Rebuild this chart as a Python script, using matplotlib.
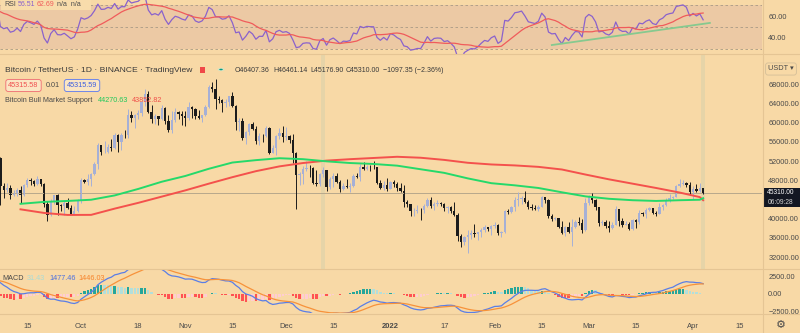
import numpy as np
import pandas as pd
import matplotlib
matplotlib.use('Agg')
import matplotlib.pyplot as plt
from matplotlib.patches import Rectangle, Circle
from matplotlib.lines import Line2D

bg = '#f8d9a6'
band = '#ecc9a4'
txt = '#4a4a4a'
sep = '#e5c594'
up_c = '#a6b0d6'
dn_c = '#1c1c1c'
FONT = ['Liberation Sans', 'DejaVu Sans']
plt.rcParams['font.family'] = FONT

# daily closes 2021-07-20 .. 2022-04-04 (Jul 20 - Sep 6 only feed RSI / MACD)
closes = [
    29790, 32140, 32300, 33600, 34300, 35400, 37270, 39460, 40020, 40010, 42240, 41460,
    39850, 39150, 38190, 39720, 40870, 42830, 44610, 43830, 46290, 45570, 45800, 44400,
    47800, 47100, 47000, 45900, 44700, 44600, 46800, 49300, 48900, 49300, 49500, 47700,
    48950, 46800, 49070, 48900, 48810, 46990, 47130,
    48800, 49270, 49940, 49920, 51760, 52660,
    # Sep 7 ->
    46860, 46060, 46400, 44850, 45150, 46030, 44960, 47100, 48120, 47750, 47300, 48300,
    47240, 42980, 40700, 43560, 44880, 42810, 42700, 43200, 42170, 41030, 41520, 43790,
    # Oct
    48140, 47660, 48200, 49230, 51490, 55340, 53800, 53950, 54950, 54660, 57480, 56000,
    57370, 57350, 61670, 60880, 61530, 62010, 64280, 66000, 62210, 60690, 61300, 60850,
    63080, 60330, 58460, 60590, 62250, 61890, 61320,
    # Nov
    61000, 63230, 62940, 61450, 61010, 61530, 63300, 67540, 66940, 64880, 64810, 64150,
    64400, 65460, 63560, 60100, 60360, 56890, 58050, 59700, 58620, 56250, 57170, 57140,
    58960, 53730, 54720, 57270, 57800, 56950,
    # Dec
    57180, 56480, 53600, 49150, 49400, 50440, 50590, 50470, 47540, 47140, 49390, 50050,
    46700, 48340, 48860, 47630, 46130, 46830, 46680, 46910, 48910, 48590, 50800, 50400,
    50780, 50710, 50680, 47540, 46460, 47120, 46200,
    # Jan
    47720, 47300, 46440, 45830, 43430, 43080, 41550, 41680, 41860, 41820, 42740, 43920,
    42590, 43100, 43180, 43110, 42250, 42380, 41690, 40680, 36450, 35070, 36280, 36660,
    36960, 36820, 37160, 37710, 38170, 37920, 38480,
    # Feb
    38740, 36950, 37330, 41570, 41410, 42380, 43840, 44040, 44370, 43510, 42390, 42210,
    42050, 42540, 44540, 43870, 40520, 40000, 40090, 38370, 37000, 38230, 37250, 38330,
    39210, 39100, 37700, 43190,
    # Mar
    44420, 43920, 42450, 39150, 39400, 38420, 37990, 38730, 41940, 39420, 38730, 38810,
    37780, 39670, 39280, 41110, 40920, 41760, 42200, 41260, 41000, 42360, 42890, 43960,
    44310, 44510, 46820, 47130, 47430, 47060, 45510,
    # Apr
    46280, 45810, 46407.36, 45310.00,
]

# highs / lows of the visible candles, 2021-09-07 .. 2022-04-04
highs = [
    52920, 47350, 47360, 47020, 45990, 46460, 46880, 47250, 48450, 48500, 48150, 48820,
    48370, 47340, 43640, 44000, 44970, 45150, 42980, 43940, 44350, 42790, 42620, 44130,
    48490, 48360, 49300, 49530, 51890, 55750, 55400, 56100, 55490, 56560, 57840, 57680,
    57750, 58530, 62930, 62340, 61720, 62700, 64490, 67000, 66640, 63730, 61750, 61490,
    63710, 63290, 61500, 62500, 62980, 62350, 62420,
    62440, 64270, 63520, 63090, 62600, 61560, 63600, 67790, 68530, 69000, 65580, 65000,
    65000, 65550, 66400, 63620, 61000, 60980, 58370, 59850, 60050, 59270, 57880, 57700,
    59400, 59170, 55280, 57440, 58870, 59250,
    59040, 57370, 57600, 53900, 49700, 50880, 51950, 51200, 50800, 50100, 49480, 50780,
    50200, 48700, 49500, 49440, 47990, 47360, 48300, 47540, 49330, 49580, 51380, 51870,
    51170, 51280, 52090, 50710, 48140, 47900, 48550,
    47950, 47990, 47570, 47500, 47070, 43820, 43150, 42300, 42790, 42250, 43100, 44350,
    44460, 43450, 43800, 43480, 43190, 42690, 42580, 43500, 41100, 36840, 36500, 37550,
    37550, 38920, 37230, 38000, 38720, 38360, 38740,
    39260, 38860, 37390, 41770, 41950, 42650, 44500, 45490, 44800, 45820, 43930, 43000,
    42760, 42870, 44770, 44580, 44160, 40960, 40450, 40150, 39500, 38430, 39250, 39840,
    39700, 40300, 39860, 44230,
    44950, 45400, 44100, 42500, 39700, 39700, 39550, 39380, 42590, 42050, 40250, 39490,
    39300, 39940, 39880, 41720, 41480, 42330, 42400, 42300, 41540, 43350, 43020, 44220,
    45090, 44810, 46920, 48190, 48100, 47700, 47600,
    46720, 47210, 47440, 46461.14,
]
lows = [
    42840, 44410, 45510, 44130, 44730, 44740, 43370, 44690, 46700, 47020, 46750, 47050,
    46830, 42500, 39600, 40550, 43070, 40680, 41660, 40800, 42100, 40930, 40750, 41410,
    43280, 47430, 47120, 46890, 49060, 50380, 53360, 53660, 53700, 54090, 54420, 53880,
    54250, 56820, 56850, 60100, 58960, 60870, 61320, 63480, 62000, 60000, 59660, 59510,
    60650, 59820, 58000, 57820, 60170, 60720, 59600,
    59400, 60620, 60960, 60680, 60720, 60080, 61380, 63080, 66380, 62820, 64100, 62280,
    63360, 63580, 63360, 58570, 58370, 56470, 55600, 57350, 58470, 55610, 55300, 55900,
    57000, 53500, 53610, 53260, 56670, 55880,
    56460, 55780, 51680, 42000, 47100, 47320, 50040, 48600, 47320, 46850, 46750, 48640,
    45670, 46290, 46550, 47520, 45500, 45950, 46410, 45560, 46640, 48450, 47920, 50100,
    50180, 49990, 50450, 47320, 46100, 45900, 45680,
    46200, 46650, 45700, 45500, 42500, 42430, 40610, 40500, 41220, 39650, 41270, 42450,
    42310, 41720, 42580, 42580, 41540, 41250, 41140, 40550, 35440, 34010, 34600, 32920,
    35700, 36230, 35500, 36160, 37320, 37350, 36630,
    38000, 36590, 36250, 37020, 40950, 41100, 41650, 42670, 43120, 43180, 42000, 41760,
    41870, 41570, 42430, 43310, 40080, 39450, 39630, 38020, 36800, 36350, 37050, 34320,
    38020, 38590, 37000, 37450,
    42830, 43330, 41830, 38550, 38600, 38090, 37150, 37860, 38660, 38540, 38220, 38660,
    37590, 37580, 38100, 38830, 40500, 40130, 41520, 40910, 40500, 40890, 41830, 42570,
    43580, 44070, 44420, 46660, 46930, 46540, 45200,
    44200, 45620, 45520, 45176.90,
]

# Bitcoin Bull Market Support band (weekly points)
bms_dates = ['2021-09-13', '2021-09-20', '2021-09-27', '2021-10-04', '2021-10-11', '2021-10-18',
             '2021-10-25', '2021-11-01', '2021-11-08', '2021-11-15', '2021-11-22', '2021-11-29',
             '2021-12-06', '2021-12-13', '2021-12-20', '2021-12-27', '2022-01-03', '2022-01-10',
             '2022-01-17', '2022-01-24', '2022-01-31', '2022-02-07', '2022-02-14', '2022-02-21',
             '2022-02-28', '2022-03-07', '2022-03-14', '2022-03-21', '2022-03-28', '2022-04-03',
             '2022-04-04']
bms_green = [43100, 43500, 43700, 43950, 44850, 46200, 47700, 48900, 50400, 51700, 52200, 52600,
             52400, 51950, 51600, 51400, 51050, 50300, 49550, 48400, 47400, 46950, 46400, 45500,
             44650, 44150, 43850, 43700, 43850, 43950, 44270.63]
bms_red = [41950, 41200, 40780, 40800, 42100, 43300, 44600, 45900, 47300, 48650, 49900, 50900,
           51600, 52100, 52400, 52650, 52900, 52700, 52250, 51650, 51300, 51100, 50800, 50250,
           49200, 48200, 47300, 46400, 45450, 44500, 43852.82]

# trend line drawn on the RSI pane
trend_dates = ['2022-02-18', '2022-04-06']
trend_vals = [33.6, 53.7]

tick_dates = ['2021-09-15', '2021-10-01', '2021-10-18', '2021-11-01', '2021-11-15', '2021-12-01',
              '2021-12-15', '2022-01-01', '2022-01-17', '2022-02-01', '2022-02-15', '2022-03-01',
              '2022-03-15', '2022-04-01', '2022-04-15']
tick_labels = ['15', 'Oct', '18', 'Nov', '15', 'Dec', '15', '2022', '17', 'Feb', '15', 'Mar',
               '15', 'Apr', '15']

# price scale labels (44000 sits behind the last-price tag)
price_ticks = [32000, 36000, 40000, 48000, 52000, 56000, 60000, 64000, 68000]

ohlc_fields = ['O46407.36', 'H46461.14', 'L45176.90', 'C45310.00', '\u22121097.35 (\u22122.36%)']
ohlc_x = [235, 273, 310, 346, 383]

assert len(closes) == 259 and len(highs) == 210 and len(lows) == 210

t0 = pd.Timestamp('2021-09-07')
dates = pd.date_range('2021-07-20', periods=len(closes), freq='D')
xs = np.array((dates - t0).days)
cl = pd.Series(closes, dtype=float)

def xd(lst):
    return np.array((pd.to_datetime(lst) - t0).days)

# indicators
d = cl.diff()
gain = d.clip(lower=0).ewm(alpha=1/14, adjust=False).mean()
loss = (-d.clip(upper=0)).ewm(alpha=1/14, adjust=False).mean()
rsi = 100 - 100 / (1 + gain / loss)
rsi_ma = rsi.rolling(14).mean()
macd = cl.ewm(span=12, adjust=False).mean() - cl.ewm(span=26, adjust=False).mean()
sig = macd.ewm(span=9, adjust=False).mean()
hist = macd - sig

# visible candles
vis = xs >= 0
xv = xs[vis]
c = np.array(closes, dtype=float)[vis]
o = np.array(closes, dtype=float)[np.where(vis)[0] - 1]
hi = np.array(highs, dtype=float)
lo = np.array(lows, dtype=float)
cols = [up_c if cc >= oo else dn_c for oo, cc in zip(o, c)]

W, H = 800, 333
def rect(x0, y0, x1, y1):
    return [x0 / W, 1 - y1 / H, (x1 - x0) / W, (y1 - y0) / H]
def fx(x):
    return x / W
def fy(y):
    return 1 - y / H

fig = plt.figure(figsize=(8, 3.33), dpi=100)
fig.patch.set_facecolor(bg)
ax_r = fig.add_axes(rect(0, 0, 762, 54))
ax_m = fig.add_axes(rect(0, 54, 762, 269))
ax_d = fig.add_axes(rect(0, 269, 762, 313))

for a in (ax_r, ax_m, ax_d):
    a.set_facecolor(bg)
    for s in a.spines.values():
        s.set_visible(False)
    a.set_xlim(-0.1, 226.5)
    a.yaxis.tick_right()
    a.tick_params(axis='y', length=0, pad=4.5, labelsize=5.3, colors=txt)
    a.tick_params(axis='x', length=0)
    a.set_xticks([])

# RSI pane
ax_r.axhspan(30, 70, color=band, lw=0)
for lv in (70, 50, 30):
    ax_r.axhline(lv, color='#a99a86', lw=0.6, ls=(0, (3, 3)))
ax_r.plot(xs, rsi, color='#8a62cc', lw=0.9)
ax_r.plot(xs, rsi_ma, color='#f05b5b', lw=0.9)
ax_r.plot(xd(trend_dates), trend_vals, color='#86c98f', lw=1.3)
ax_r.set_ylim(25.45, 74.55)
ax_r.set_yticks([40, 60])
ax_r.set_yticklabels(['40.00', '60.00'])

# main pane
for dd in ('2021-12-12', '2022-04-04'):
    xx = xd([dd])[0]
    ax_m.axvspan(xx - 0.6, xx + 0.6, color='#e6d4a8', lw=0)
ax_m.axhline(closes[-1], color='#b8a88c', lw=0.7)
ax_m.vlines(xv, lo, hi, colors=cols, lw=0.7)
ax_m.bar(xv, np.maximum(np.abs(c - o), 60), bottom=np.minimum(o, c), width=0.7, color=cols, lw=0)
ax_m.plot(xd(bms_dates), bms_red, color='#f4514c', lw=1.4)
ax_m.plot(xd(bms_dates), bms_green, color='#25d96a', lw=1.4)
ax_m.set_ylim(29521, 74312)
ax_m.set_yticks(price_ticks)
ax_m.set_yticklabels(['%.2f' % v for v in price_ticks])

# MACD pane
hv = hist.values
hcol = []
for i in range(len(hv)):
    prev = hv[i - 1] if i > 0 else hv[i]
    if hv[i] >= 0:
        hcol.append('#26a69a' if hv[i] > prev else '#b2dfdb')
    else:
        hcol.append('#ffcdd2' if hv[i] > prev else '#ff5252')
ax_d.bar(xs, hv, width=0.7, color=hcol, lw=0)
ax_d.plot(xs, macd, color='#5a7ee6', lw=0.9)
ax_d.plot(xs, sig, color='#f7923a', lw=0.9)
ax_d.set_ylim(-2714, 3571)
ax_d.set_yticks([-2500, 0, 2500])
ax_d.set_yticklabels(['\u22122500.00', '0.00', '2500.00'])
ax_d.set_xticks(xd(tick_dates))
ax_d.set_xticklabels(tick_labels)
ax_d.tick_params(axis='x', labelsize=5.5, colors=txt, pad=7)
ax_d.get_xticklabels()[7].set_fontweight('bold')

# pane separators
for yy in (54, 269, 313.5):
    fig.add_artist(Line2D([0, 1], [fy(yy), fy(yy)], color=sep, lw=0.8))
fig.add_artist(Line2D([fx(762.5), fx(762.5)], [0, 1], color=sep, lw=0.8))

# legends
fs = 5.2
fig.add_artist(Rectangle((fx(1), fy(10)), fx(90), 10 / H, color='#f8dcab', lw=0))
fig.text(fx(4), fy(4.5), 'RSI', color=txt, fontsize=5.0, va='center')
fig.text(fx(18), fy(4.5), '56.51', color='#8a62cc', fontsize=5.0, va='center')
fig.text(fx(37), fy(4.5), '62.69', color='#f05b5b', fontsize=5.0, va='center')
fig.text(fx(57), fy(4.5), 'n/a  n/a', color=txt, fontsize=5.0, va='center')

fig.text(fx(5), fy(70), 'Bitcoin / TetherUS \u00b7 1D \u00b7 BINANCE \u00b7 TradingView',
         color='#3a3a3a', fontsize=6.1, va='center')
fig.add_artist(Rectangle((fx(200), fy(73)), 5 / W, 6 / H, color='#f04848', lw=0))
fig.add_artist(Circle((fx(221), fy(69.5)), 3.5 / W, color='#cfe5c8', lw=0))
fig.add_artist(Circle((fx(221), fy(69.5)), 1.8 / W, color='#089981', lw=0))
for s, x in zip(ohlc_fields, ohlc_x):
    fig.text(fx(x), fy(70), s, color='#3a3a3a', fontsize=5.0, va='center')

fig.text(fx(23.5), fy(85.5), '45315.58', color='#f05050', fontsize=fs, va='center', ha='center',
         bbox=dict(boxstyle='round,pad=0.35', fc='#fbe6c4', ec='#f07a7a', lw=0.7))
fig.text(fx(53), fy(85.5), '0.01', color=txt, fontsize=fs, va='center', ha='center')
fig.text(fx(82), fy(85.5), '45315.59', color='#3f5fe0', fontsize=fs, va='center', ha='center',
         bbox=dict(boxstyle='round,pad=0.35', fc='#fbe6c4', ec='#6f86e8', lw=0.7))

fig.text(fx(5), fy(100.5), 'Bitcoin Bull Market Support', color=txt, fontsize=fs, va='center')
fig.text(fx(98), fy(100.5), '44270.63', color='#1fc85c', fontsize=fs, va='center')
fig.text(fx(132), fy(100.5), '43852.82', color='#f0504a', fontsize=fs, va='center')

fig.text(fx(2), fy(279), 'MACD', color=txt, fontsize=fs, va='center')
fig.text(fx(27), fy(279), '31.43', color='#a9dcd6', fontsize=fs, va='center')
fig.text(fx(49), fy(279), '1477.46', color='#4a6fe0', fontsize=fs, va='center')
fig.text(fx(78), fy(279), '1446.03', color='#f7832a', fontsize=fs, va='center')

fig.text(fx(781), fy(69), 'USDT \u25be', color=txt, fontsize=5.3, va='center', ha='center',
         bbox=dict(boxstyle='round,pad=0.35', fc=bg, ec='#d9c29a', lw=0.7))

# last price label
fig.add_artist(Rectangle((fx(762.5), fy(206.5)), 37.5 / W, 19 / H, color='#131722', lw=0))
fig.text(fx(781), fy(192.6), '45310.00', color='white', fontsize=4.8, va='center', ha='center')
fig.text(fx(781), fy(202.2), '06:09:28', color='#d0d0d0', fontsize=4.8, va='center', ha='center')

fig.text(fx(781), fy(324.5), '\u2699', color=txt, fontsize=8, va='center', ha='center')

fig.savefig('out.png', dpi=100, facecolor=bg)
